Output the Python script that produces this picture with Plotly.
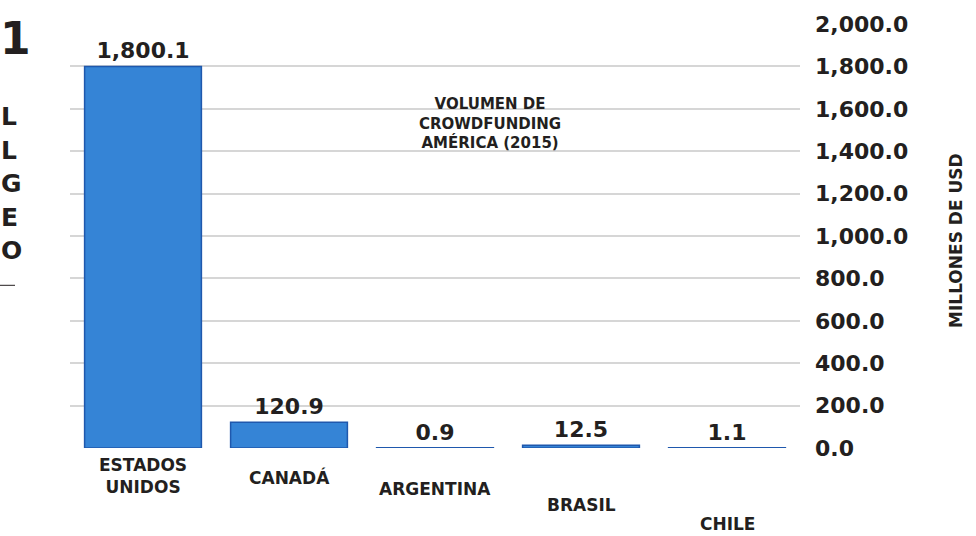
import plotly.graph_objects as go

# Crowdfunding volume in the Americas, 2015 (millions of USD)
countries = ["ESTADOS UNIDOS", "CANADÁ", "ARGENTINA", "BRASIL", "CHILE"]
country_labels = ["ESTADOS<br>UNIDOS", "CANADÁ", "ARGENTINA", "BRASIL", "CHILE"]
volumes = [1800.1, 120.9, 0.9, 12.5, 1.1]
tick_values = [0, 200, 400, 600, 800, 1000, 1200, 1400, 1600, 1800, 2000]
title_lines = ["VOLUMEN DE", "CROWDFUNDING", "AMÉRICA (2015)"]
axis_title = "MILLONES DE USD"
edge_letters = ["L", "L", "G", "E", "O"]

W, H = 976, 536
L_M, R_M, T_M, B_M = 70, 176, 18, 88
PW, PH = W - L_M - R_M, H - T_M - B_M


def px_x(p):
    return (p - L_M) / PW


def px_y(p):
    return (H - B_M - p) / PH


FONT = "'DejaVu Sans', Inter, sans-serif"
DARK = "#231f20"

fig = go.Figure(
    go.Bar(
        x=countries,
        y=volumes,
        marker=dict(color="#3584d6", line=dict(color="#1f58ad", width=1.5)),
        texttemplate="%{y:,.1f}",
        textposition="outside",
        textfont=dict(family=FONT, size=22, color=DARK, weight="bold"),
        cliponaxis=False,
        width=0.8,
    )
)

annotations = []

# staggered category labels under the bars
label_y = [476, 478, 490, 506, 525]
for c, lab, py in zip(countries, country_labels, label_y):
    annotations.append(dict(
        x=c, xref="x", y=px_y(py), yref="paper", text=lab, showarrow=False,
        xanchor="center", yanchor="middle",
        font=dict(family=FONT, size=17, color=DARK, weight="bold"),
    ))

# chart title inside the plot area
annotations.append(dict(
    x=px_x(490), y=px_y(119), xref="paper", yref="paper",
    text="<br>".join(title_lines), showarrow=False, align="center",
    xanchor="center", yanchor="middle",
    font=dict(family=FONT, size=15, color=DARK, weight="bold"),
))

# rotated unit label on the right
annotations.append(dict(
    x=px_x(956), y=px_y(238), xref="paper", yref="paper",
    text=axis_title, textangle=-90, showarrow=False,
    xanchor="center", yanchor="middle",
    font=dict(family=FONT, size=17, color=DARK, weight="bold"),
))

# fragments of neighbouring page text at the left edge
annotations.append(dict(
    x=px_x(-2), y=px_y(33), xref="paper", yref="paper", text="1",
    showarrow=False, xanchor="left", yanchor="middle",
    font=dict(family=FONT, size=44, color=DARK, weight="bold"),
))
for i, ch in enumerate(edge_letters):
    annotations.append(dict(
        x=px_x(-1), y=px_y(112 + i * 34), xref="paper", yref="paper", text=ch,
        showarrow=False, xanchor="left", yanchor="middle",
        font=dict(family=FONT, size=25, color=DARK, weight="bold"),
    ))

fig.update_layout(
    width=W, height=H,
    margin=dict(l=L_M, r=R_M, t=T_M, b=B_M),
    paper_bgcolor="white", plot_bgcolor="white",
    showlegend=False,
    annotations=annotations,
    shapes=[dict(type="line", xref="paper", yref="paper",
                 x0=px_x(0), x1=px_x(15), y0=px_y(283), y1=px_y(283),
                 line=dict(color=DARK, width=1))],
    xaxis=dict(showticklabels=False, showgrid=False, zeroline=False,
               showline=False, ticks=""),
    yaxis=dict(
        side="right", range=[0, 2000], tickvals=tick_values,
        tickformat=",.1f", showgrid=True, gridcolor="#d6d6d6", gridwidth=1.5,
        zeroline=False, showline=False, ticks="", ticklabelstandoff=14,
        tickfont=dict(family=FONT, size=22, color=DARK, weight="bold"),
    ),
)

fig.write_html("out.html")
